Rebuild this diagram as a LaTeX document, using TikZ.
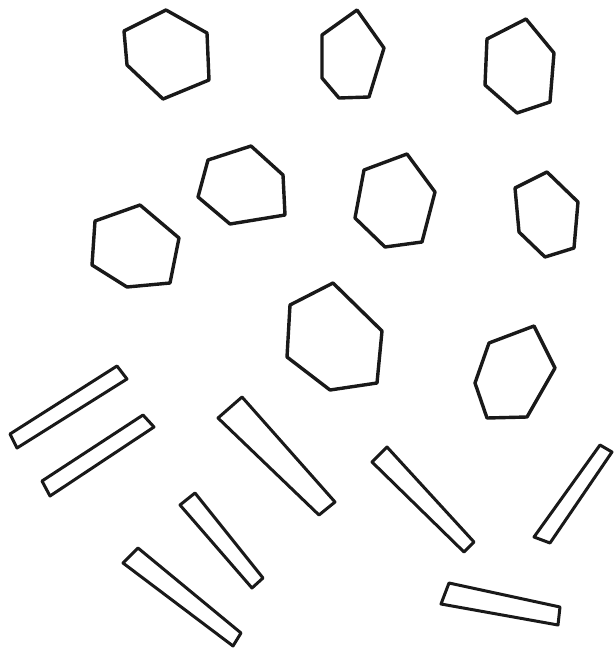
\documentclass[tikz,border=0pt]{standalone}
\begin{document}
\begin{tikzpicture}[x=1pt,y=-1pt,
  crystal/.style={draw=black!90,line width=3.4pt,line join=round,line cap=round},
  rod/.style={draw=black!90,line width=3.0pt,line join=round,line cap=round}]
\useasboundingbox[fill=white] (0,0) rectangle (614,651);
% hexagonal crystals
\draw[crystal] (166,10) -- (207,33) -- (209,80) -- (163,99) -- (127,65) -- (124,31) -- cycle;
\draw[crystal] (357,10) -- (384,48) -- (369,97) -- (339,98) -- (322,78) -- (322,35) -- cycle;
\draw[crystal] (526,19) -- (554,53) -- (550,102) -- (517,113) -- (485,85) -- (487,39) -- cycle;
\draw[crystal] (251,146) -- (283,175) -- (285,215) -- (230,224) -- (198,197) -- (208,160) -- cycle;
\draw[crystal] (407,154) -- (435,192) -- (422,242) -- (385,247) -- (355,218) -- (364,170) -- cycle;
\draw[crystal] (547,172) -- (578,202) -- (574,248) -- (545,257) -- (519,232) -- (515,188) -- cycle;
\draw[crystal] (140,205) -- (179,238) -- (170,283) -- (127,287) -- (92,265) -- (95,221) -- cycle;
\draw[crystal] (333,283) -- (382,331) -- (377,383) -- (330,390) -- (287,357) -- (290,305) -- cycle;
\draw[crystal] (534,326) -- (555,368) -- (527,417) -- (487,418) -- (475,383) -- (489,343) -- cycle;
% rod crystals
\draw[rod] (117,366) -- (127,379) -- (17,448) -- (10,434) -- cycle;
\draw[rod] (143,415) -- (154,427) -- (50,496) -- (42,481) -- cycle;
\draw[rod] (242,397) -- (218,418) -- (319,515) -- (335,502) -- cycle;
\draw[rod] (195,493) -- (180,505) -- (252,588) -- (263,578) -- cycle;
\draw[rod] (138,548) -- (123,563) -- (233,646) -- (241,633) -- cycle;
\draw[rod] (387,447) -- (372,462) -- (464,552) -- (474,542) -- cycle;
\draw[rod] (600,445) -- (612,452) -- (550,543) -- (534,537) -- cycle;
\draw[rod] (449,583) -- (441,604) -- (558,625) -- (560,607) -- cycle;
\end{tikzpicture}
\end{document}
